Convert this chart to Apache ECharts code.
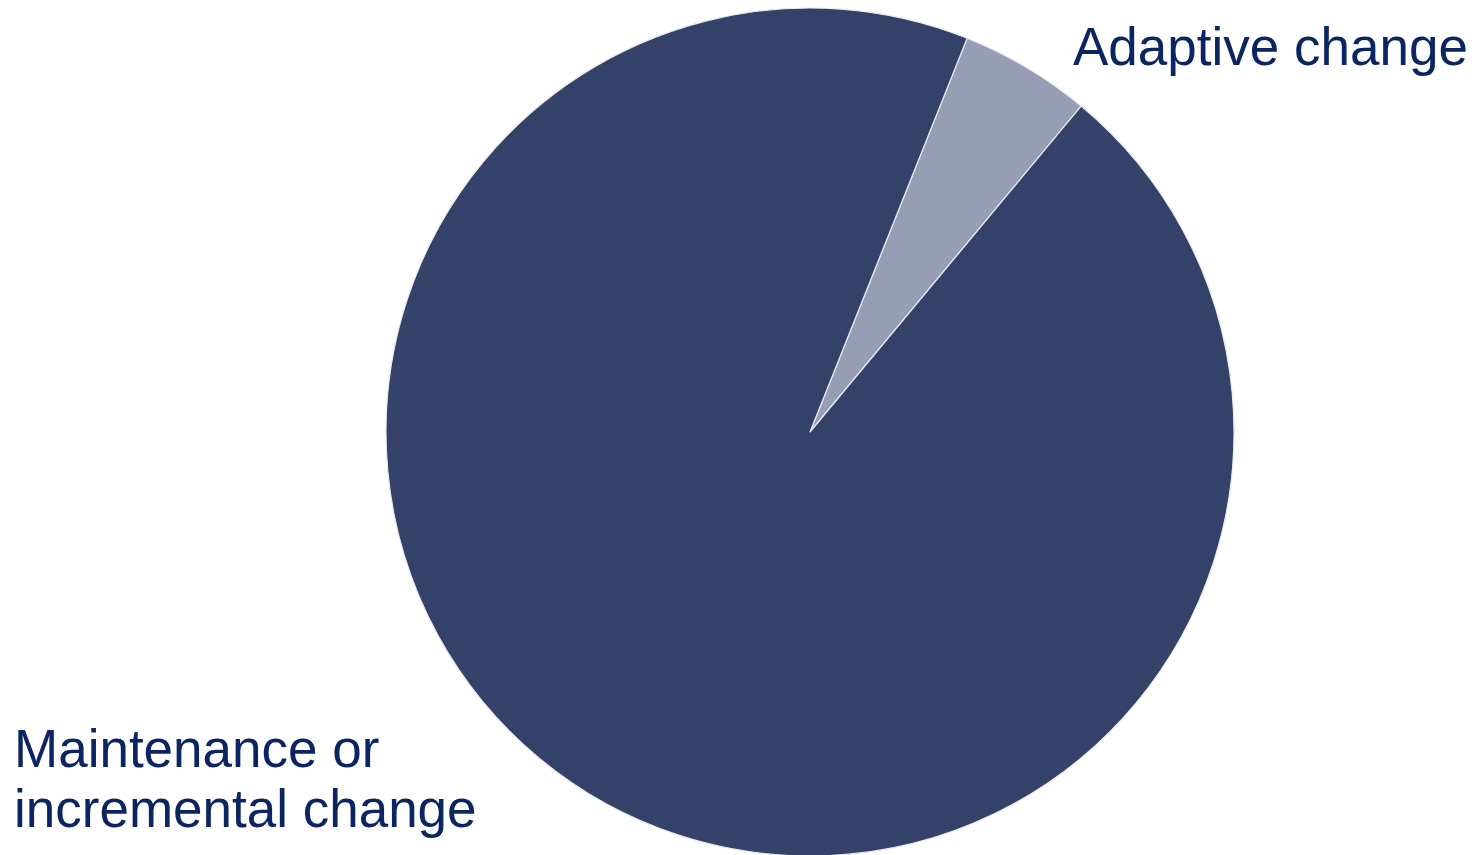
<!DOCTYPE html>
<html>
<head>
<meta charset="utf-8">
<title>Change type</title>
<script src="https://cdn.jsdelivr.net/npm/echarts@6/dist/echarts.min.js"></script>
<style>
	html,body{margin:0;padding:0;background:#fff;}
	#main{width:1480px;height:855px;}
</style>
</head>
<body>
<div id="main"></div>
<script>
	//数据
	var categories = ["Adaptive change", "Maintenance or\nincremental change"];
	var values = [5, 95];
	var sliceColors = ["#969db5", "#344269"];

	//标签位置
	var labelPos = [
		 {x: 1073, y: 50, align: "left"}
		,{x: 14, y: 782, align: "left"}
	];

	var myChart = echarts.init(document.getElementById("main"));
	var pieData = [];
	for (var i = 0; i < categories.length; i++) {
		pieData.push({name: categories[i], value: values[i], itemStyle: {color: sliceColors[i]}});
	}

	var option = {
		 animation: false
		,backgroundColor: "#ffffff"
		,series: [{
			 type: "pie"
			,center: [810, 432]
			,radius: 424
			,startAngle: 68.25
			,clockwise: true
			,data: pieData
			,itemStyle: {borderColor: "#e8eaf0", borderWidth: 1.2}
			,label: {
				 show: true
				,position: "outside"
				,formatter: "{b}"
				,color: "#0b2462"
				,fontFamily: "Liberation Sans, Arial, sans-serif"
				,fontSize: 53
				,lineHeight: 60
			}
			,labelLine: {show: false}
			,labelLayout: function (params) {
				var p = labelPos[params.dataIndex];
				return {x: p.x, y: p.y, align: p.align, verticalAlign: "middle"};
			}
			,emphasis: {disabled: true}
		}]
	};
	myChart.setOption(option);
</script>
</body>
</html>
